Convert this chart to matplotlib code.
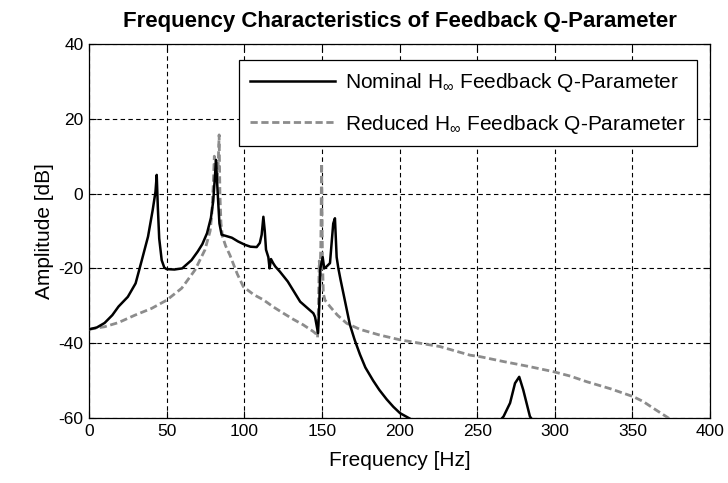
import matplotlib
matplotlib.use('Agg')
import matplotlib.pyplot as plt


# nominal H-inf Q-parameter (black)
freq_nom = [0, 5, 10, 15, 19, 25, 30, 34, 38, 41, 42.8, 43.6, 44.3, 45.2,
    46.8, 48.5, 50, 55, 60, 63, 66, 70, 73, 76, 78.5, 80, 81, 81.8, 82.5,
    83.3, 84, 85.4, 88, 92, 96, 100.5, 104, 108, 110, 111.2, 112.3, 113.2,
    114, 115.5, 116.3, 117.2, 118.6, 120, 123, 128, 136, 144.5, 145.6,
    147.5, 148.3, 149, 150.5, 151.5, 153, 155.2, 156.5, 157.3, 158.4,
    159.5, 160.6, 162, 164, 166, 168, 171, 174.5, 178, 183, 187, 191.7,
    196, 200.3, 206.8, 212, 230, 255, 264, 267, 271.2, 274.4, 277.1, 279.7,
    284, 290, 330, 400]
amp_nom = [-36.3, -35.8, -34.6, -32.5, -30.2, -27.6, -24.0, -17.8, -11.5,
    -4.4, 0.5, 5.0, -3.5, -12.0, -17.8, -19.8, -20.2, -20.3, -20.0, -18.9,
    -17.8, -15.5, -13.5, -10.6, -6.5, -2.0, 4.0, 9.0, 3.0, -3.0, -8.0,
    -11.0, -11.3, -11.8, -12.8, -13.7, -14.2, -14.3, -13.2, -11.0, -6.2,
    -10.0, -15.0, -17.0, -20.0, -17.5, -18.6, -19.5, -20.9, -23.5, -28.9,
    -32.0, -33.0, -37.3, -30.0, -20.0, -17.0, -20.0, -19.5, -18.6, -12.0,
    -8.0, -6.6, -17.0, -20.0, -23.0, -27.0, -31.0, -35.0, -39.0, -43.0,
    -46.5, -50.0, -52.5, -55.0, -57.0, -58.7, -60.2, -62.0, -66.0, -64.0,
    -61.0, -59.6, -56.0, -50.7, -49.0, -52.5, -59.6, -63.0, -70.0, -76.0]

# reduced H-inf Q-parameter (gray dashed)
freq_red = [0, 10, 18.9, 29.6, 40.3, 50, 59.7, 68.3, 74.7, 78, 79, 80,
    80.7, 81.5, 82.5, 83.2, 83.8, 84.3, 85, 86, 88, 90.8, 92, 95.5, 99.4,
    106, 112.3, 118.7, 125.2, 131.5, 138, 144.5, 146.2, 147.2, 147.8,
    148.3, 148.8, 149.3, 149.8, 150.3, 150.9, 152, 155.2, 160, 166, 174.5,
    187, 200.3, 213, 226, 245.4, 251.9, 266.9, 283, 299, 310, 320.6, 336,
    350.6, 357, 363.5, 373.2, 385]
amp_red = [-36.3, -35.6, -34.5, -32.5, -30.7, -28.5, -25.3, -20.4, -15.0,
    -10.0, -6.0, 2.0, 10.0, 5.0, 3.0, 8.0, 15.7, 0.0, -8.0, -11.5, -14.0,
    -16.5, -17.8, -21.5, -24.9, -27.0, -28.4, -30.3, -32.0, -33.6, -35.1,
    -36.9, -37.5, -38.5, -30.0, -18.0, -22.0, -14.0, 8.1, -16.0, -26.7,
    -28.5, -30.2, -32.5, -34.7, -36.3, -37.8, -39.1, -40.0, -40.9, -43.2,
    -43.6, -44.9, -46.2, -47.6, -48.8, -50.3, -52.2, -54.3, -55.6, -57.4,
    -60.0, -63.0]

x_ticks = [0, 50, 100, 150, 200, 250, 300, 350, 400]
y_ticks = [-60, -40, -20, 0, 20, 40]

plt.rcParams['font.family'] = ['Liberation Sans', 'DejaVu Sans']
plt.rcParams['mathtext.fontset'] = 'custom'
plt.rcParams['mathtext.rm'] = 'Liberation Sans'
plt.rcParams['mathtext.it'] = 'Liberation Sans'
plt.rcParams['axes.unicode_minus'] = False

fig = plt.figure(figsize=(7.28, 4.83), dpi=100)
ax = fig.add_axes([0.1223, 0.1346, 0.853, 0.7743])

ax.plot(freq_nom, amp_nom, c='k', lw=1.8, zorder=5,
    label=r'Nominal H$_\infty$ Feedback Q-Parameter')
ax.plot(freq_red, amp_red, c='#8c8c8c', lw=2.0, dashes=(2.6, 1.3),
    zorder=4, label=r'Reduced H$_\infty$ Feedback Q-Parameter')

ax.set_xlim(0, 400)
ax.set_ylim(-60, 40)
ax.set_xticks(x_ticks)
ax.set_yticks(y_ticks)
ax.tick_params(direction='in', top=True, right=True, length=5,
    width=0.8, labelsize=12.5, pad=4)
ax.grid(True, color='k', linestyle=(0, (4, 3)), linewidth=0.8)
for sp in ax.spines.values():
    sp.set_linewidth(0.9)

ax.set_xlabel('Frequency [Hz]', fontsize=15, labelpad=9)
ax.set_ylabel('Amplitude [dB]', fontsize=15, labelpad=3)
ax.set_title('Frequency Characteristics of Feedback Q-Parameter',
    fontsize=16, fontweight='bold', pad=12)

legend = ax.legend(loc='upper right', bbox_to_anchor=(0.9786, 0.957),
    borderaxespad=0.0, fontsize=15, fancybox=False, framealpha=1.0,
    edgecolor='k', handlelength=4.1, labelspacing=0.9, borderpad=0.52,
    handletextpad=0.45)
legend.get_frame().set_linewidth(0.9)

plt.savefig('out.png', dpi=100, facecolor='w')
